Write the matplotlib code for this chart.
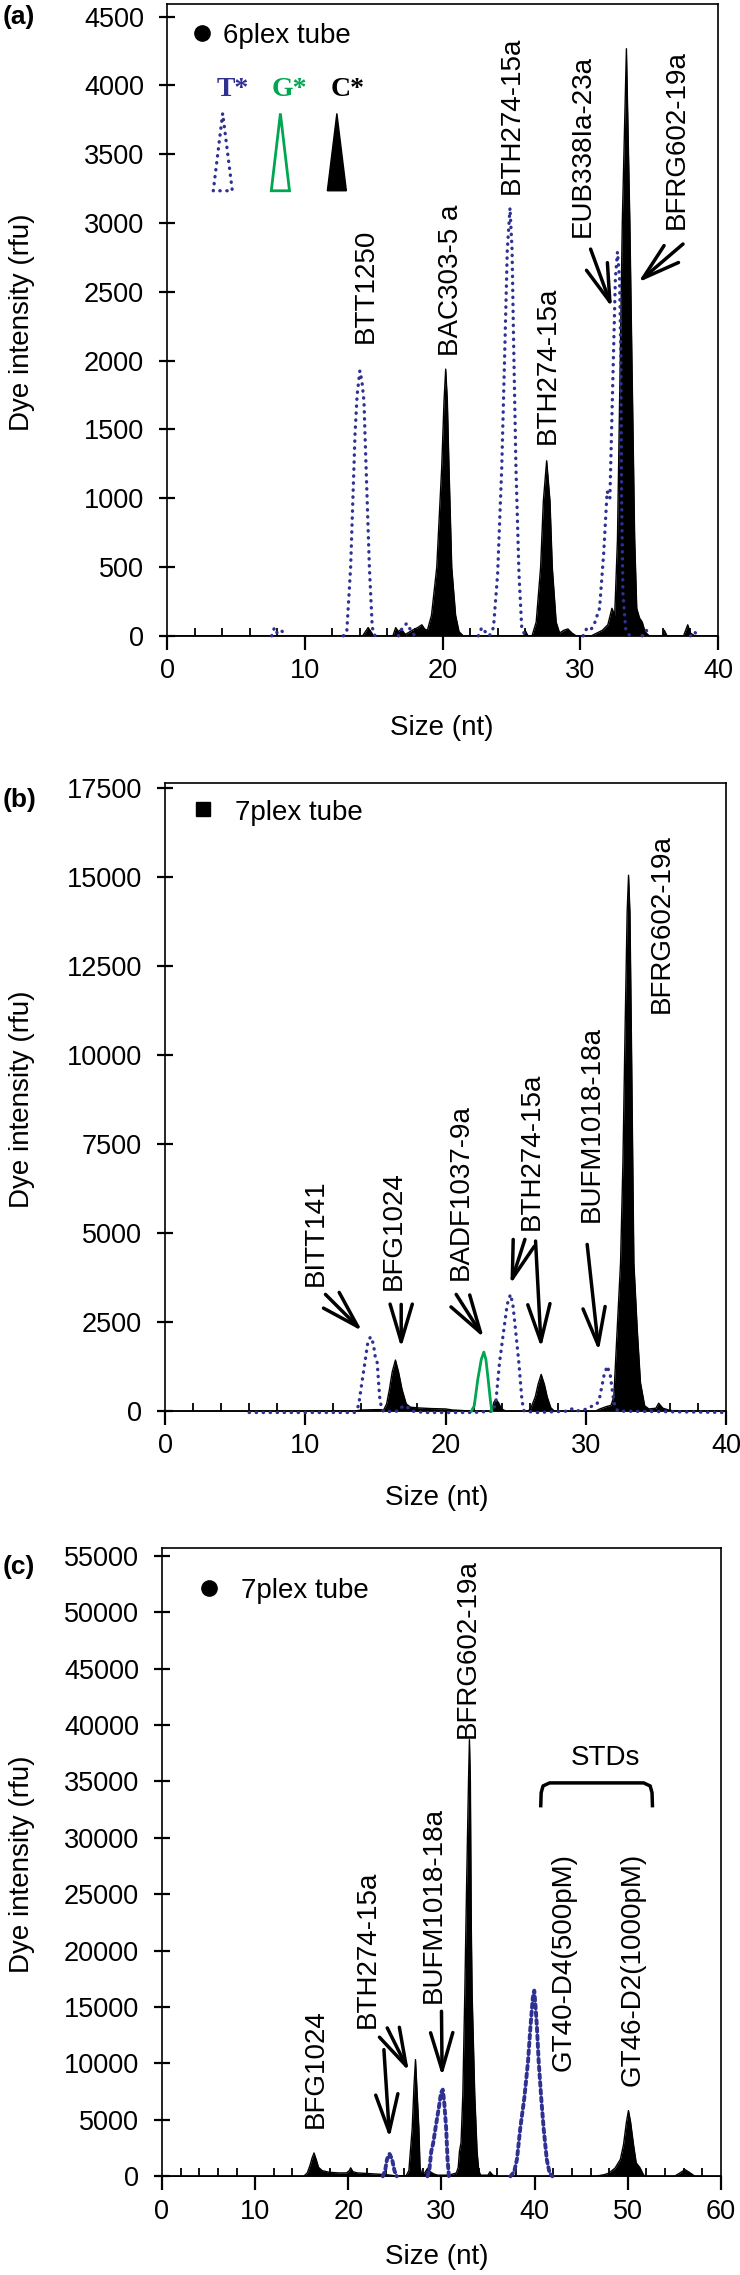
import matplotlib
matplotlib.use('Agg')
import matplotlib.pyplot as plt
import numpy as np
from matplotlib.patches import FancyArrowPatch, Polygon

plt.rcParams['font.family'] = ['Liberation Sans', 'DejaVu Sans']

BLUE = '#2e3192'
GREEN = '#00a651'
DOTS = (0, (0.1, 2.0))

# ---------------- (a) 6plex tube ----------------
a_black_x = [0, 14.2, 14.4, 14.6, 14.8, 15.0, 16.4, 16.6, 16.8, 17.0, 17.3, 17.8, 18.2, 18.5, 18.7,
             18.9, 19.2, 19.58, 19.94, 20.11, 20.23, 20.35, 20.47, 20.67, 20.95, 21.2, 21.5,
             25.9, 26.0, 26.2, 26.5, 26.8, 27.12, 27.32, 27.56, 27.8, 27.97, 28.25, 28.5, 28.8, 29.1, 29.4, 29.7,
             30.8, 31.2, 31.6, 32.0, 32.3, 32.5, 32.7, 32.9, 33.05, 33.35, 33.6, 33.75, 33.95, 34.1, 34.3,
             34.5, 34.7, 35.0, 36.0, 36.1, 36.3, 37.5, 37.8, 38.0, 38.3, 40]
a_black_y = [0, 0, 30, 60, 30, 0, 0, 60, 30, 50, 10, 40, 60, 80, 50,
             40, 150, 496, 1223, 1707, 1938, 1707, 1223, 496, 150, 30, 0,
             0, 40, 0, 0, 100, 496, 980, 1272, 980, 496, 100, 20, 40, 50, 20, 0,
             0, 20, 40, 80, 200, 150, 700, 2000, 3000, 4266, 3000, 2000, 700, 200, 130,
             100, 30, 0, 0, 40, 0, 0, 80, 20, 0, 0]
a_blue = [
    ([7.6, 7.8, 8.0, 8.3, 8.6], [0, 60, 20, 40, 0]),
    ([12.8, 13.05, 13.33, 13.65, 13.8, 14.0, 14.15, 14.3, 14.37, 14.69, 14.9, 15.1],
     [0, 30, 500, 1470, 1750, 1926, 1850, 1700, 1470, 500, 60, 0]),
    ([16.8, 17.1, 17.4, 17.7, 18.0], [0, 60, 90, 40, 0]),
    ([22.6, 22.85, 23.1, 23.4, 23.7, 24.0, 24.3, 24.55, 24.7, 24.9, 25.05, 25.15, 25.33, 25.55, 25.75, 26.0],
     [0, 60, 30, 0, 60, 450, 1223, 2192, 2800, 3110, 2800, 2192, 1223, 450, 60, 0]),
    ([30.2, 30.5, 30.8, 31.0, 31.4, 31.7, 31.95, 32.15, 32.35, 32.55, 32.7, 32.85, 32.95, 33.0, 33.1, 33.3, 33.6],
     [0, 60, 50, 80, 200, 600, 1050, 1000, 1800, 2600, 2790, 2600, 2000, 1000, 300, 50, 0]),
    ([34.5, 34.8, 35.0], [0, 40, 0]),
    ([38.0, 38.3, 38.5], [0, 30, 0]),
]
a_labels = ['BTT1250', 'BAC303-5 a', 'BTH274-15a', 'BTH274-15a', 'EUB338Ia-23a', 'BFRG602-19a']
a_label_x = [14.4, 20.6, 25.0, 27.65, 30.15, 37.0]
a_label_y = [2131, 2035, 3210, 1393, 2895, 2955]
a_arrows = [((30.75, 2810), (32.3, 2386)), ((37.46, 2847), (34.2, 2568))]

# ---------------- (b) 7plex tube ----------------
b_black_x = [0, 13.5, 14.0, 15.0, 15.6, 15.8, 16.0, 16.2, 16.43, 16.65, 16.9, 17.2, 17.5, 18, 19, 20, 20.5, 21, 21.8,
             23.3, 23.45, 23.6, 23.8, 24.0, 24.3,
             25.9, 26.1, 26.4, 26.6, 26.82, 27.05, 27.25, 27.5, 27.75,
             30.7, 31.0, 31.5, 31.8, 32.0, 32.24, 32.48, 32.65, 32.8, 32.95, 33.05, 33.15, 33.25, 33.35, 33.43,
             33.67, 33.9, 34.2, 34.5, 35.0, 35.2, 35.5, 36.0, 36.5, 40]
b_black_y = [0, 0, 30, 40, 40, 200, 608, 1100, 1433, 1100, 608, 200, 110, 90, 70, 60, 30, 20, 0,
             0, 250, 330, 220, 60, 0,
             0, 100, 400, 750, 1030, 750, 400, 100, 0,
             0, 60, 130, 160, 400, 2294, 4166, 7000, 10632, 14000, 15050, 14000, 10632, 7000, 4166,
             2294, 800, 150, 60, 80, 220, 80, 20, 0, 0]
b_blue_x = [6.0, 13.5, 13.8, 14.0, 14.25, 14.45, 14.65, 14.85, 15.0, 15.13, 15.3, 15.45, 15.6, 16.6, 17.0, 17.3,
            17.6, 18.5, 22.0, 23.4, 23.6, 23.85, 24.16, 24.4, 24.63, 24.8, 24.99, 25.23, 25.45, 25.6, 26.5,
            28.8, 29.0, 29.3, 30.0, 30.5, 30.8, 31.0, 31.3, 31.53, 31.75, 31.95, 32.1, 32.3, 40]
b_blue_y = [-40, -40, 150, 700, 1358, 1900, 2088, 1900, 1500, 1358, 400, 50, -20, 0, 150, 100,
            0, -40, -40, 0, 300, 1358, 2294, 3000, 3277, 3000, 2294, 1358, 300, 0, -40,
            0, 60, 0, 50, 150, 200, 400, 1000, 1264, 1000, 400, 100, 0, -40]
b_green_x = [21.85, 22.05, 22.3, 22.55, 22.73, 22.88, 23.04, 23.2, 23.3]
b_green_y = [0, 150, 890, 1450, 1657, 1450, 890, 300, 0]
b_labels = ['BITT141', 'BFG1024', 'BADF1037-9a', 'BTH274-15a', 'BUFM1018-18a', 'BFRG602-19a']
b_label_x = [10.73, 16.31, 21.11, 26.12, 30.45, 35.42]
b_label_y = [3506, 3413, 3694, 5098, 5304, 11185]
b_arrows = [((11.44, 3277), (14.06, 2247)), ((16.84, 2996), (16.84, 1779)), ((20.76, 3277), (22.73, 2060)),
            ((25.66, 4822), (24.63, 3558)), ((26.42, 4775), (26.82, 1779)), ((30.1, 4681), (30.93, 1685))]

# ---------------- (c) 7plex tube ----------------
c_black_x = [0, 15.2, 15.6, 15.9, 16.1, 16.32, 16.55, 16.8, 17.2, 18, 19, 19.8, 20.1, 20.25, 20.5, 21, 22, 23, 24,
             24.5, 25, 26.2, 26.5, 26.86, 27.05, 27.21, 27.35, 27.57, 27.7, 27.85, 28.2, 28.5, 28.8, 29.2, 29.6,
             30.5, 31.0, 31.6, 31.8, 31.93, 32.1, 32.29, 32.5, 32.7, 32.9, 33.0, 33.1, 33.2, 33.29, 33.57, 33.82,
             34.0, 34.2, 35.0, 35.2, 35.5, 36, 46.5, 47.5, 48.0, 48.64, 49.2, 49.54, 49.85, 50.07, 50.3, 50.61,
             50.9, 51.32, 51.7, 52, 55.0, 55.5, 56.14, 56.7, 57.2, 60]
c_black_y = [0, 0, 300, 1000, 1600, 2069, 1500, 800, 500, 350, 300, 300, 500, 750, 400, 300, 250, 200, 150,
             100, 50, 50, 500, 4285, 8000, 10343, 8000, 4285, 800, 200, 300, 700, 400, 200, 100,
             100, 150, 300, 800, 2216, 3000, 7240, 16100, 26000, 35000, 38700, 35000, 22015, 16100, 7240, 2216,
             500, 100, 100, 400, 100, 0, 0, 150, 300, 739, 1500, 2807, 4800, 5821, 4800, 2807,
             1200, 739, 100, 0, 0, 250, 590, 300, 0, 0]
c_blue = [
    ([23.7, 23.95, 24.15, 24.43, 24.7, 24.95, 25.2], [0, 500, 1500, 1980, 1500, 500, 0]),
    ([28.5, 28.7, 28.9, 29.1, 29.36, 29.7, 29.95, 30.14, 30.3, 30.5, 30.65, 30.8],
     [0, 600, 2200, 2900, 4285, 6000, 7400, 7683, 6500, 4285, 1500, 0]),
    ([37.4, 37.8, 38.1, 38.46, 38.9, 39.29, 39.54, 39.8, 39.96, 40.1, 40.25, 40.43, 40.7, 40.96, 41.3, 41.6, 41.9],
     [0, 400, 1500, 4285, 7000, 10195, 13150, 15800, 16460, 15000, 13150, 10195, 7000, 4285, 1500, 300, 0]),
]
c_labels = ['BFG1024', 'BTH274-15a', 'BUFM1018-18a', 'BFRG602-19a', 'GT40-D4(500pM)', 'GT46-D2(1000pM)']
c_label_x = [16.49, 22.08, 29.2, 32.85, 43.13, 50.54]
c_label_y = [4280, 13150, 15360, 38860, 9308, 7978]
c_arrows = [((23.82, 11229), (24.43, 3398)), ((24.18, 13150), (26.5, 9308)), ((30.0, 14627), (30.07, 8865))]
c_bracket_x = [40.65, 40.7, 40.9, 41.6, 51.7, 52.4, 52.6, 52.65]
c_bracket_y = [32700, 34000, 34600, 34870, 34870, 34600, 34000, 32700]


def setup_axis(ax, xmax, ymin, ymax, ystep):
	ax.set_xlim(0, xmax)
	ax.set_ylim(ymin, ymax)
	ax.spines['bottom'].set_position(('data', 0))
	for s in ax.spines.values():
		s.set_linewidth(1.2)
	ax.set_xticks(np.arange(0, xmax + 1, 10))
	ax.set_xticks(np.arange(0, xmax + 1, 2), minor=True)
	ax.set_yticks(np.arange(0, ymax, ystep))
	ax.tick_params(axis='x', which='major', direction='out', length=10, width=1.6, labelsize=19.5, pad=6)
	ax.tick_params(axis='x', which='minor', direction='in', length=6, width=1.3)
	ax.tick_params(axis='y', which='major', direction='inout', length=11, width=1.6, labelsize=19.5, pad=11)


def draw_arrows(ax, arrows):
	for tail, head in arrows:
		arr = FancyArrowPatch(tail, head, arrowstyle='->,head_length=2.7,head_width=0.8',
							  mutation_scale=10, lw=2.5, color='k', shrinkA=0, shrinkB=0, zorder=5)
		ax.add_patch(arr)


def draw_labels(ax, labels, xs, ys):
	for t, x, y in zip(labels, xs, ys):
		ax.text(x, y, t, rotation=90, ha='center', va='bottom', fontsize=20)


def blue_line(ax, x, y, lw=2.4, ls=DOTS):
	ax.plot(x, y, color=BLUE, lw=lw, ls=ls, dash_capstyle='round', zorder=3)


fig = plt.figure(figsize=(7.4, 22.75), dpi=100)

#(a)
ax = fig.add_axes([0.2257, 0.7187, 0.7446, 0.2796])
setup_axis(ax, 40, -30, 4592, 500)
ax.fill_between(a_black_x, 0, a_black_y, color='k', lw=0, zorder=2)
ax.plot(a_black_x, a_black_y, color='k', lw=1, zorder=2)
for xs, ys in a_blue:
	blue_line(ax, xs, ys)
draw_labels(ax, a_labels, a_label_x, a_label_y)
draw_arrows(ax, a_arrows)
ax.plot(2.54, 4382, 'o', color='k', ms=11)
ax.text(4.07, 4360, '6plex tube', fontsize=20, va='center')
# dye key
ax.add_patch(Polygon([(3.36, 3234), (4.04, 3796), (4.74, 3234)], closed=True, fill=False,
					 edgecolor=BLUE, lw=2.4, ls=DOTS, capstyle='round'))
ax.add_patch(Polygon([(7.57, 3234), (8.23, 3796), (8.89, 3234)], closed=True, fill=False, edgecolor=GREEN, lw=2))
ax.add_patch(Polygon([(11.64, 3234), (12.33, 3796), (13.02, 3234)], closed=True, facecolor='k', edgecolor='k'))
for t, x, c in zip(['T*', 'G*', 'C*'], [4.8, 8.86, 13.1], [BLUE, GREEN, 'k']):
	ax.text(x, 3968, t, color=c, fontsize=20, fontweight='bold', family='Liberation Serif', ha='center', va='center')

#(b)
ax = fig.add_axes([0.2230, 0.3774, 0.7581, 0.2784])
setup_axis(ax, 40, -150, 17640, 2500)
ax.fill_between(b_black_x, 0, b_black_y, color='k', lw=0, zorder=2)
ax.plot(b_black_x, b_black_y, color='k', lw=1, zorder=2)
blue_line(ax, b_blue_x, b_blue_y)
ax.plot(b_green_x, b_green_y, color=GREEN, lw=2, zorder=3)
draw_labels(ax, b_labels, b_label_x, b_label_y)
draw_arrows(ax, b_arrows)
ax.plot(2.71, 16916, 's', color='k', ms=10)
ax.text(4.98, 16803, '7plex tube', fontsize=20, va='center')

#(c)
ax = fig.add_axes([0.2189, 0.0414, 0.7554, 0.2782])
setup_axis(ax, 60, -400, 55700, 5000)
ax.fill_between(c_black_x, 0, c_black_y, color='k', lw=0, zorder=2)
ax.plot(c_black_x, c_black_y, color='k', lw=1, zorder=2)
for xs, ys in c_blue:
	blue_line(ax, xs, ys, lw=2.8, ls=(0, (1, 1)))
draw_labels(ax, c_labels, c_label_x, c_label_y)
draw_arrows(ax, c_arrows)
ax.plot(c_bracket_x, c_bracket_y, color='k', lw=2.5, solid_capstyle='butt')
ax.text(47.6, 37100, 'STDs', fontsize=20, ha='center', va='center')
ax.plot(5.0, 52150, 'o', color='k', ms=11)
ax.text(8.46, 51860, '7plex tube', fontsize=20, va='center')

# axis titles and panel letters
for yc in [0.8585, 0.5167, 0.1804]:
	fig.text(22 / 740, yc, 'Dye intensity (rfu)', rotation=90, ha='center', va='center', fontsize=20)
for xc, yc in [(0.597, 0.68), (0.59, 0.3415), (0.59, 0.0079)]:
	fig.text(xc, yc, 'Size (nt)', ha='center', va='center', fontsize=20)
for t, yc in [('(a)', 0.9925), ('(b)', 0.6484), ('(c)', 0.3112)]:
	fig.text(3 / 740, yc, t, ha='left', va='center', fontsize=19, fontweight='bold')

plt.savefig('out.png', dpi=100)
